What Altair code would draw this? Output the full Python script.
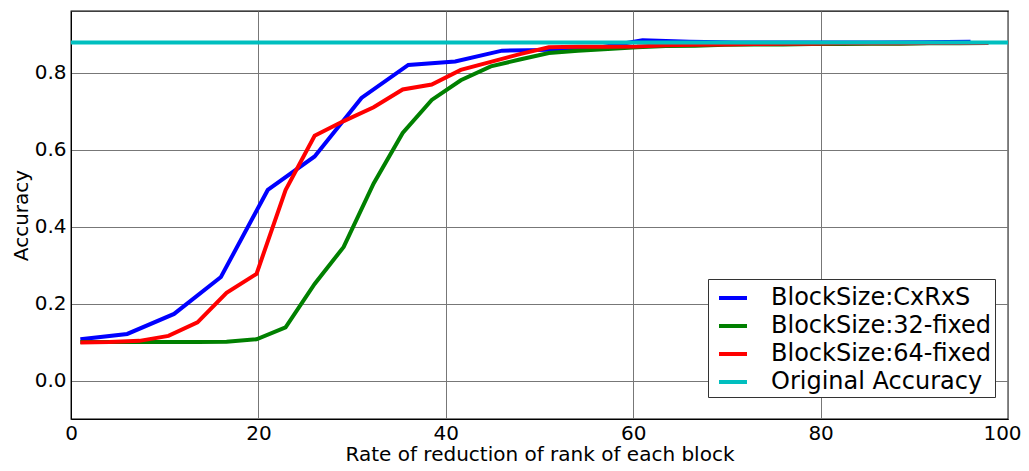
import altair as alt
import pandas as pd

# ---- data ----
series_names = ["BlockSize:CxRxS", "BlockSize:32-fixed", "BlockSize:64-fixed", "Original Accuracy"]
series_colors = ["#0000ff", "#008000", "#ff0000", "#00bfbf"]

x_cxrxs = [1, 6, 11, 16, 21, 26, 31, 36, 41, 46, 51, 56, 61, 66, 71, 76, 81, 86, 91, 96]
acc_cxrxs = [0.107, 0.121, 0.173, 0.269, 0.495, 0.582, 0.734, 0.820, 0.829, 0.857,
             0.859, 0.863, 0.884, 0.880, 0.878, 0.878, 0.878, 0.878, 0.879, 0.880]

x_fixed = [1, 4.1, 7.3, 10.4, 13.5, 16.6, 19.8, 22.9, 26, 29.1, 32.3, 35.4, 38.5, 41.6,
           44.8, 47.9, 51, 54.1, 57.3, 60.4, 63.5, 66.6, 69.8, 72.9, 76, 79.1, 82.3,
           85.4, 88.5, 91.6, 94.8, 97.9]
acc_32 = [0.100, 0.100, 0.100, 0.100, 0.100, 0.101, 0.107, 0.138, 0.251, 0.347, 0.512,
          0.643, 0.729, 0.780, 0.816, 0.834, 0.851, 0.857, 0.861, 0.866, 0.869, 0.870,
          0.872, 0.873, 0.873, 0.874, 0.874, 0.875, 0.875, 0.876, 0.876, 0.877]
acc_64 = [0.099, 0.100, 0.103, 0.116, 0.151, 0.228, 0.277, 0.495, 0.636, 0.674, 0.710,
          0.756, 0.769, 0.807, 0.828, 0.848, 0.866, 0.867, 0.867, 0.868, 0.871, 0.872,
          0.873, 0.874, 0.875, 0.875, 0.876, 0.876, 0.876, 0.877, 0.877, 0.877]

x_orig = [0, 100]
acc_orig = [0.878, 0.878]

x_ticks = [0, 20, 40, 60, 80, 100]
y_ticks = [0.0, 0.2, 0.4, 0.6, 0.8]

rows = []
for name, xs, ys in [
    (series_names[0], x_cxrxs, acc_cxrxs),
    (series_names[1], x_fixed, acc_32),
    (series_names[2], x_fixed, acc_64),
    (series_names[3], x_orig, acc_orig),
]:
    for i, (a, b) in enumerate(zip(xs, ys)):
        rows.append({"series": name, "x": a, "y": b, "idx": i})
df = pd.DataFrame(rows)

FONT = "DejaVu Sans"

chart = (
    alt.Chart(df)
    .mark_line(strokeWidth=4, clip=True)
    .encode(
        x=alt.X(
            "x:Q",
            scale=alt.Scale(domain=[0, 100], nice=False),
            axis=alt.Axis(
                values=x_ticks,
                title="Rate of reduction of rank of each block",
                labelPadding=4,
                labelFlush=False,
                labelOffset={"condition": {"test": "datum.value == 100", "value": -6}, "value": 0},
                titleBaseline="alphabetic",
                titleX=468.5,
                titleY=41,
            ),
        ),
        y=alt.Y(
            "y:Q",
            scale=alt.Scale(domain=[-0.1, 0.96], nice=False, zero=False),
            axis=alt.Axis(
                values=y_ticks,
                format=".1f",
                title="Accuracy",
                labelPadding=5,
                labelFlush=False,
                titleBaseline="alphabetic",
                titleX=-44,
                titleY=204,
            ),
        ),
        color=alt.Color(
            "series:N",
            scale=alt.Scale(domain=series_names, range=series_colors),
            legend=alt.Legend(
                title=None,
                orient="none",
                legendX=637,
                legendY=268,
                symbolType="stroke",
                symbolSize=784,
                symbolStrokeWidth=4,
                symbolOffset=6,
                labelFontSize=24,
                labelFont=FONT,
                labelColor="black",
                labelLimit=400,
                labelOffset=22,
                rowPadding=0,
                padding=3,
                strokeColor="#333333",
                fillColor="white",
            ),
        ),
        order=alt.Order("idx:Q"),
    )
    .properties(
        width=937,
        height=408,
        autosize=alt.AutoSizeParams(type="none"),
        padding={"left": 63, "top": 3, "right": 13, "bottom": 44},
        background="white",
    )
    .configure_view(stroke="black", strokeWidth=1.3)
    .configure_axis(
        labelFont=FONT,
        titleFont=FONT,
        labelFontSize=20,
        titleFontSize=20,
        titleFontWeight="normal",
        labelColor="black",
        titleColor="black",
        domainColor="black",
        gridColor="#777777",
        gridWidth=1,
        gridOpacity=1,
        ticks=False,
    )
)

chart.save("out.html", embed_options={"renderer": "svg", "actions": False})
